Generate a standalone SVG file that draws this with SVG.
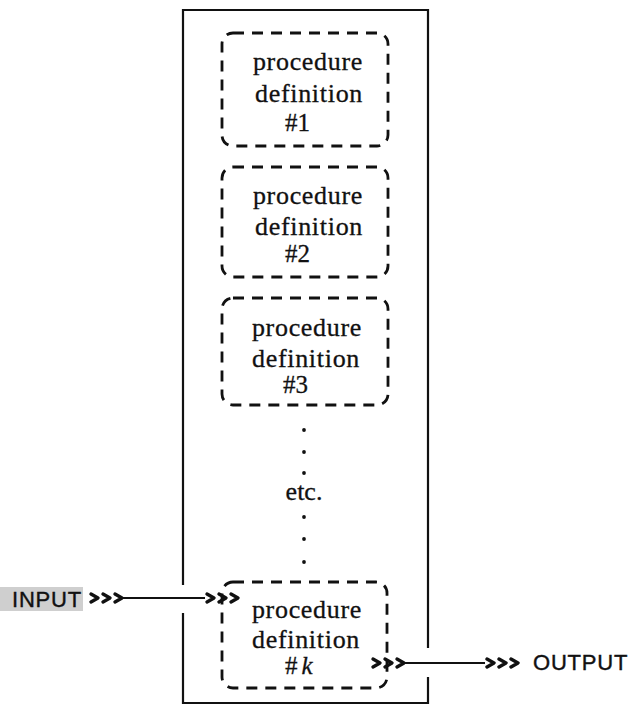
<svg xmlns="http://www.w3.org/2000/svg" width="629" height="707" viewBox="0 0 629 707">
<style>
.dash{fill:none;stroke:#111;stroke-width:2.8;stroke-dasharray:11 8;}
.lbl{font-family:"Liberation Serif",serif;font-size:26px;letter-spacing:0.7px;fill:#111;text-anchor:middle;stroke:#111;stroke-width:0.3px;}
.num{font-family:"Liberation Serif",serif;font-size:25px;fill:#111;stroke:#111;stroke-width:0.3px;}
.io{font-family:"Liberation Sans",sans-serif;font-size:22px;letter-spacing:0.8px;fill:#111;stroke:#111;stroke-width:0.4px;}
.line{fill:none;stroke:#111;stroke-width:2.2;}
.chev{fill:none;stroke:#111;stroke-width:3.4;stroke-linecap:round;stroke-linejoin:round;}
.dot{fill:#111;}
</style>
<defs>
<path id="ch3" class="chev" d="M0,-4 L7,0 L0,4 M12,-4 L19,0 L12,4 M24,-4 L31,0 L24,4"/>
</defs>
<rect width="629" height="707" fill="#ffffff"/>
<rect x="0" y="587" width="83" height="24" fill="#cfcfcf"/>

<g id="frame">
<path class="line" stroke-width="3" d="M183,585 V10 H428 V648 M428,677 V703 H183 V613"/>
</g>

<g id="proc1">
<rect class="dash" x="222" y="33" width="166" height="113" rx="11"/>
<text class="lbl" x="308" y="70">procedure</text>
<text class="lbl" x="309" y="102">definition</text>
<text class="num" x="285" y="131">#1</text>
</g>

<g id="proc2">
<rect class="dash" x="222" y="167" width="166" height="110" rx="11"/>
<text class="lbl" x="308" y="204">procedure</text>
<text class="lbl" x="309" y="235">definition</text>
<text class="num" x="285" y="262">#2</text>
</g>

<g id="proc3">
<rect class="dash" x="222" y="298" width="166" height="107" rx="11"/>
<text class="lbl" x="307" y="336">procedure</text>
<text class="lbl" x="306" y="367">definition</text>
<text class="num" x="283" y="393">#3</text>
</g>

<g id="etc">
<circle class="dot" cx="304" cy="430" r="1.9"/>
<circle class="dot" cx="304" cy="452" r="1.9"/>
<circle class="dot" cx="304" cy="473" r="1.9"/>
<text class="lbl" x="304" y="500" style="letter-spacing:0">etc.</text>
<circle class="dot" cx="304" cy="517" r="1.9"/>
<circle class="dot" cx="304" cy="539" r="1.9"/>
<circle class="dot" cx="304" cy="562" r="1.9"/>
</g>

<g id="prock">
<rect class="dash" x="222" y="582" width="165" height="106" rx="11"/>
<text class="lbl" x="307" y="618">procedure</text>
<text class="lbl" x="306" y="648">definition</text>
<text class="num" x="285" y="674">#<tspan dx="4" font-style="italic">k</tspan></text>
</g>

<g id="input">
<text class="io" x="12" y="607">INPUT</text>
</g>
<g id="output">
<text class="io" x="533" y="670">OUTPUT</text>
</g>

<g id="connectors">
<use href="#ch3" x="91" y="598"/>
<line class="line" x1="122" y1="598" x2="205" y2="598"/>
<use href="#ch3" x="207" y="598"/>
<use href="#ch3" x="373" y="663"/>
<line class="line" x1="404" y1="663" x2="485" y2="663"/>
<use href="#ch3" x="487" y="663"/>
</g>
</svg>
